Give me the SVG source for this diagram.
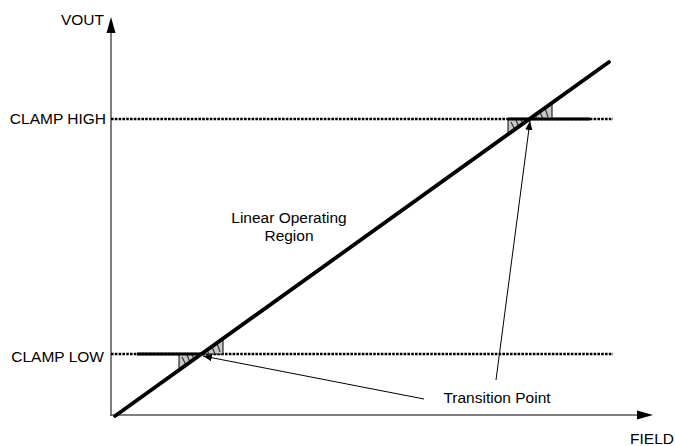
<svg xmlns="http://www.w3.org/2000/svg" width="675" height="446" viewBox="0 0 675 446">
<defs>
<style>
text{font-family:"Liberation Sans",Arial,sans-serif;font-size:15.5px;fill:#000}
.axis{stroke:#555;stroke-width:1.5;fill:none}
.dot{stroke:#000;stroke-width:2.4;stroke-dasharray:2.6 1.2;fill:none}
.thick{stroke:#000;stroke-width:3.2;fill:none}
.diag{stroke:#000;stroke-width:3.8;stroke-linecap:round;fill:none}
.tri{fill:#c8c8c8;stroke:#000;stroke-width:1}
.hatch{stroke:#333;stroke-width:1.2;fill:none}
.lead{stroke:#000;stroke-width:1;fill:none}
</style>
<marker id="ah" viewBox="0 0 10 10" refX="10" refY="5" markerWidth="9" markerHeight="9" markerUnits="userSpaceOnUse" orient="auto">
<path d="M0,1 L10,5 L0,9 Z" fill="#000"/>
</marker>
</defs>
<rect width="675" height="446" fill="#fff"/>
<g id="axes">
<line class="axis" x1="111" y1="416" x2="111" y2="32"/>
<path d="M111,17 L115.5,33 L106.5,33 Z" fill="#000"/>
<line class="axis" x1="110" y1="415" x2="638" y2="415"/>
<path d="M653,415 L637,410.5 L637,419.5 Z" fill="#000"/>
<text x="104" y="25" text-anchor="end">VOUT</text>
<text x="674" y="444" text-anchor="end">FIELD</text>
</g>
<g id="clamp-high">
<line class="dot" x1="111" y1="119" x2="613" y2="119"/>
<text x="106" y="124" text-anchor="end">CLAMP HIGH</text>
</g>
<g id="clamp-low">
<line class="dot" x1="111" y1="354" x2="613" y2="354"/>
<text x="104" y="362" text-anchor="end">CLAMP LOW</text>
</g>
<g id="transition-high">
<polygon class="tri" points="508,119 508,134 529.5,119"/>
<path class="hatch" d="M511,122 L515,130 M516,120 L519,127 M521,120 L523,124"/>
<polygon class="tri" points="529.5,119 552,119 552,103"/>
<path class="hatch" d="M535,115 L537,119 M540,112 L543,119 M545,108 L548,117"/>
<line class="thick" x1="508" y1="119" x2="590" y2="119"/>
</g>
<g id="transition-low">
<polygon class="tri" points="179,354 179,370 201.5,354"/>
<path class="hatch" d="M182,357 L186,365 M187,355 L190,362 M192,355 L194,359"/>
<polygon class="tri" points="201.5,354 223,354 223,338.5"/>
<path class="hatch" d="M207,350 L209,354 M212,347 L215,354 M217,343 L220,352"/>
<line class="thick" x1="137" y1="354" x2="202" y2="354"/>
</g>
<g id="response">
<line class="diag" x1="115" y1="416" x2="609" y2="62"/>
</g>
<g id="connectors">
<line class="lead" x1="496" y1="380" x2="530" y2="121" marker-end="url(#ah)"/>
<line class="lead" x1="424" y1="399" x2="203" y2="356" marker-end="url(#ah)"/>
</g>
<g id="labels">
<text x="289" y="223" text-anchor="middle">Linear Operating</text>
<text x="289" y="241" text-anchor="middle">Region</text>
<text x="497" y="403" text-anchor="middle">Transition Point</text>
</g>
</svg>
